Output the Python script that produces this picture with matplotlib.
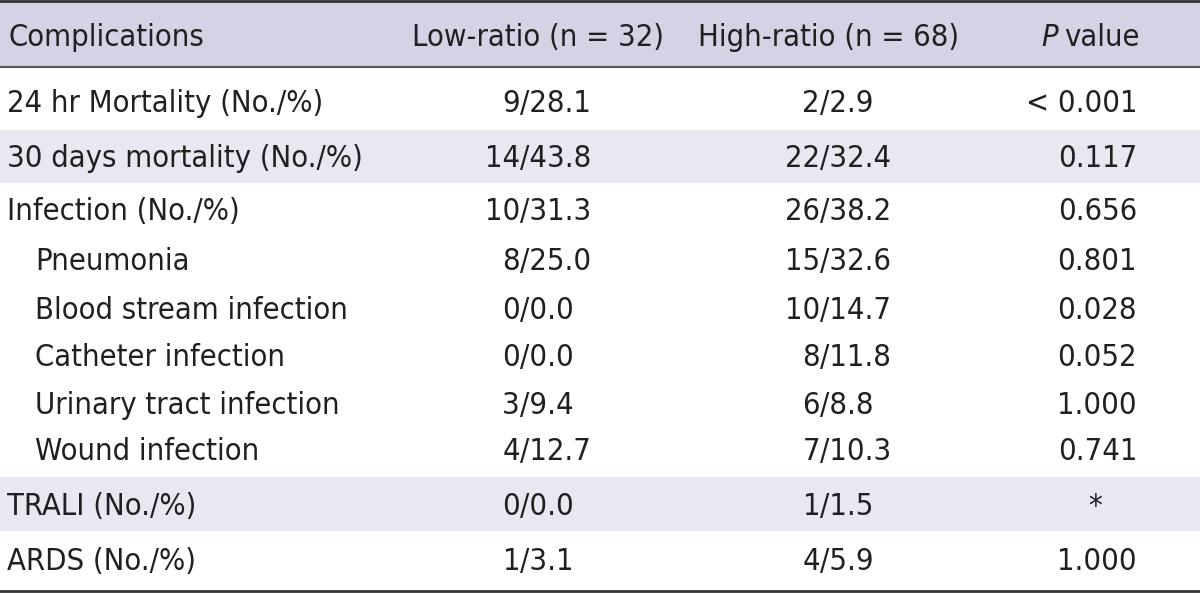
import matplotlib
matplotlib.use("Agg")
import matplotlib.pyplot as plt
from matplotlib import font_manager
from matplotlib.font_manager import FontProperties

# table content
headers = ["Complications", "Low-ratio (n = 32)", "High-ratio (n = 68)", "P value"]
labels = ["24 hr Mortality (No./%)", "30 days mortality (No./%)", "Infection (No./%)",
          "Pneumonia", "Blood stream infection", "Catheter infection",
          "Urinary tract infection", "Wound infection", "TRALI (No./%)", "ARDS (No./%)"]
indent = [False, False, False, True, True, True, True, True, False, False]
low_ratio = ["9/28.1", "14/43.8", "10/31.3", "8/25.0", "0/0.0", "0/0.0",
             "3/9.4", "4/12.7", "0/0.0", "1/3.1"]
high_ratio = ["2/2.9", "22/32.4", "26/38.2", "15/32.6", "10/14.7", "8/11.8",
              "6/8.8", "7/10.3", "1/1.5", "4/5.9"]
p_values = ["< 0.001", "0.117", "0.656", "0.801", "0.028", "0.052",
            "1.000", "0.741", "*", "1.000"]
shaded = [False, True, False, False, False, False, False, False, True, False]

# layout (pixel coords)
row_bounds = [(67, 130), (130, 183), (183, 233), (233, 283), (283, 331), (331, 379),
              (379, 426), (426, 477), (477, 531), (531, 590)]
header_base = 46
baselines = [112, 167, 220, 270, 319, 366, 414, 460, 515, 570]


# pick a narrow font if one is installed
def find_font(keys):
    for k in keys:
        for f in font_manager.fontManager.ttflist:
            if f.fname.split("/")[-1] == k:
                return f.fname
    return None


reg = find_font(["LiberationSansNarrow-Regular.ttf", "DejaVuSansCondensed.ttf"])
ita = find_font(["LiberationSansNarrow-Italic.ttf", "DejaVuSansCondensed-Oblique.ttf"])
if reg:
    fp = FontProperties(fname=reg)
else:
    fp = FontProperties(family="Roboto")
if ita:
    fpi = FontProperties(fname=ita)
else:
    fpi = FontProperties(family=fp.get_family(), style="italic") if not reg else FontProperties(fname=reg)
txt = "#231f20"

fig = plt.figure(figsize=(12, 5.93), dpi=100)
ax = fig.add_axes([0, 0, 1, 1])
ax.set_xlim(0, 1200)
ax.set_ylim(593, 0)
ax.axis("off")

# size the font so "Blood stream infection" is ~313 px wide like the reference
renderer = fig.canvas.get_renderer()
probe = ax.text(0, 0, "Blood stream infection", fontproperties=fp, fontsize=20)
w = probe.get_window_extent(renderer).width
probe.remove()
fs = 20 * 313 / w
fp.set_size(fs)
fpi.set_size(fs)

# header band
ax.axhspan(0, 67, color="#d4d3e6", lw=0)
for (top, bot), s in zip(row_bounds, shaded):
    if s:
        ax.axhspan(top, bot, color="#e8e7f2", lw=0)

ax.axhline(1, color="#333333", lw=2)
ax.axhline(67, color="#555555", lw=1.5)
ax.axhline(591, color="#333333", lw=2)

kw = dict(fontproperties=fp, color=txt, va="baseline")
ax.text(8, header_base, headers[0], ha="left", **kw)
ax.text(538, header_base, headers[1], ha="center", **kw)
ax.text(829, header_base, headers[2], ha="center", **kw)
ax.text(1058, header_base, "P", ha="right", fontproperties=fpi, color=txt, va="baseline")
ax.text(1064, header_base, "value", ha="left", **kw)

for i, lab in enumerate(labels):
    y = baselines[i]
    ax.text(35 if indent[i] else 7, y, lab, ha="left", **kw)
    # align counts on the slash
    for val, xs in ((low_ratio[i], 520), (high_ratio[i], 820)):
        n, rest = val.split("/")
        ax.text(xs, y, n, ha="right", **kw)
        ax.text(xs, y, "/" + rest, ha="left", **kw)
    if p_values[i] == "*":
        ax.text(1095, y, "*", ha="center", **kw)
    else:
        ax.text(1137, y, p_values[i], ha="right", **kw)

fig.savefig("out.png", dpi=100)
